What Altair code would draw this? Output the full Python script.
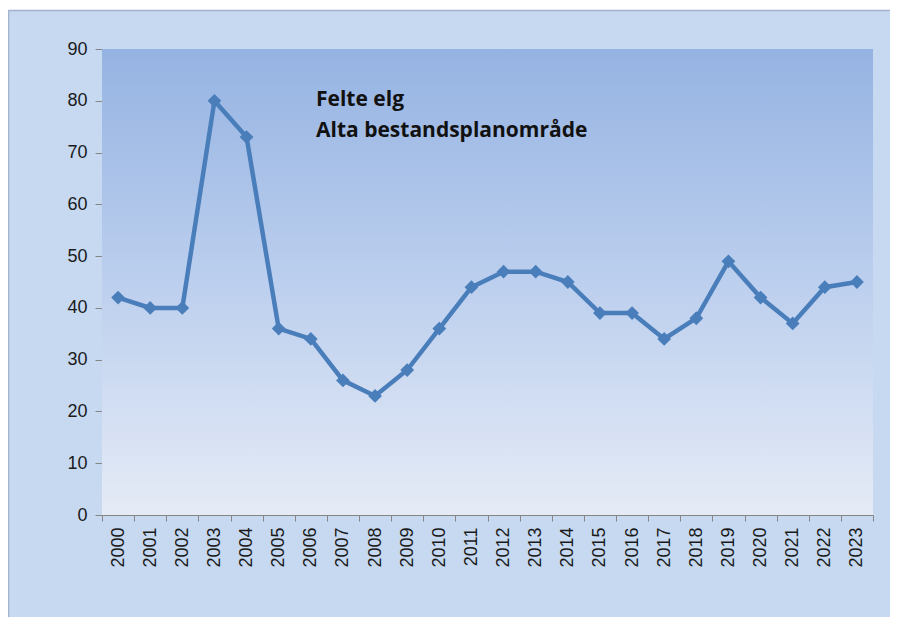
import altair as alt
import pandas as pd

years = [str(y) for y in range(2000, 2024)]
values = [42, 40, 40, 80, 73, 36, 34, 26, 23, 28, 36, 44, 47, 47, 45, 39, 39, 34, 38, 49, 42, 37, 44, 45]
title_lines = ["Felte elg", "Alta bestandsplanområde"]

df = pd.DataFrame({"year": years, "value": values})

W, H = 771, 466
PL, PT, PR, PB = 94, 41, 17, 102
LINE = "#4a7ebb"

one = alt.Data(values=[{}])

bg = alt.Chart(one).mark_rect(
    fill={"gradient": "linear", "x1": 0, "y1": 0, "x2": 0, "y2": 1,
          "stops": [{"offset": 0, "color": "#95b3e2"},
                    {"offset": 0.5, "color": "#bccfee"},
                    {"offset": 1, "color": "#e5ebf6"}]}
).encode(x=alt.value(0), x2=alt.value("width"), y=alt.value(0), y2=alt.value("height"))

x_enc = alt.X("year:N", sort=years, title=None,
              scale=alt.Scale(paddingInner=0, paddingOuter=0),
              axis=alt.Axis(labelAngle=270, labelAlign="right", labelBaseline="middle",
                            labelFontSize=18, labelColor="#1a1a1a", labelFont="Liberation Sans",
                            tickBand="extent", tickSize=6, tickColor="#868686",
                            domainColor="#868686", labelPadding=6, grid=False))
y_enc = alt.Y("value:Q", title=None,
              scale=alt.Scale(domain=[0, 90], nice=False, zero=True),
              axis=alt.Axis(values=list(range(0, 100, 10)), labelFontSize=18,
                            labelColor="#1a1a1a", labelFont="Liberation Sans",
                            tickSize=7, tickColor="#868686", domainColor="#868686",
                            labelPadding=8, grid=False))

base = alt.Chart(df).encode(x=x_enc, y=y_enc)
line = base.mark_line(color=LINE, strokeWidth=4.5)
pts = base.mark_point(shape="diamond", filled=True, color=LINE, size=190, opacity=1)

title = alt.Chart(one).mark_text(
    align="left", baseline="middle", fontSize=21, fontWeight="bold",
    font="Open Sans", color="#111111", lineHeight=31
).encode(x=alt.value(214), y=alt.value(51), text=alt.value(title_lines))

white_top = alt.Chart(one).mark_rect(color="white").encode(
    x=alt.value(-PL), x2=alt.value(W + PR), y=alt.value(-PT), y2=alt.value(-PT + 2))
border_top = alt.Chart(one).mark_rule(color="#a3b3c9", strokeWidth=1.5).encode(
    x=alt.value(-PL), x2=alt.value(W + PR), y=alt.value(-PT + 2.5))
border_left = alt.Chart(one).mark_rule(color="#a3b3c9", strokeWidth=1.5).encode(
    x=alt.value(-PL + 0.5), y=alt.value(-PT + 2), y2=alt.value(H + PB))

chart = alt.layer(bg, line, pts, title, white_top, border_top, border_left).properties(
    width=W, height=H,
    autosize=alt.AutoSizeParams(type="none"),
    padding={"left": PL, "top": PT, "right": PR, "bottom": PB},
    background="#c6d9f1",
).configure_view(strokeWidth=0)

chart.save("out.html", embed_options={"renderer": "svg", "actions": False})
